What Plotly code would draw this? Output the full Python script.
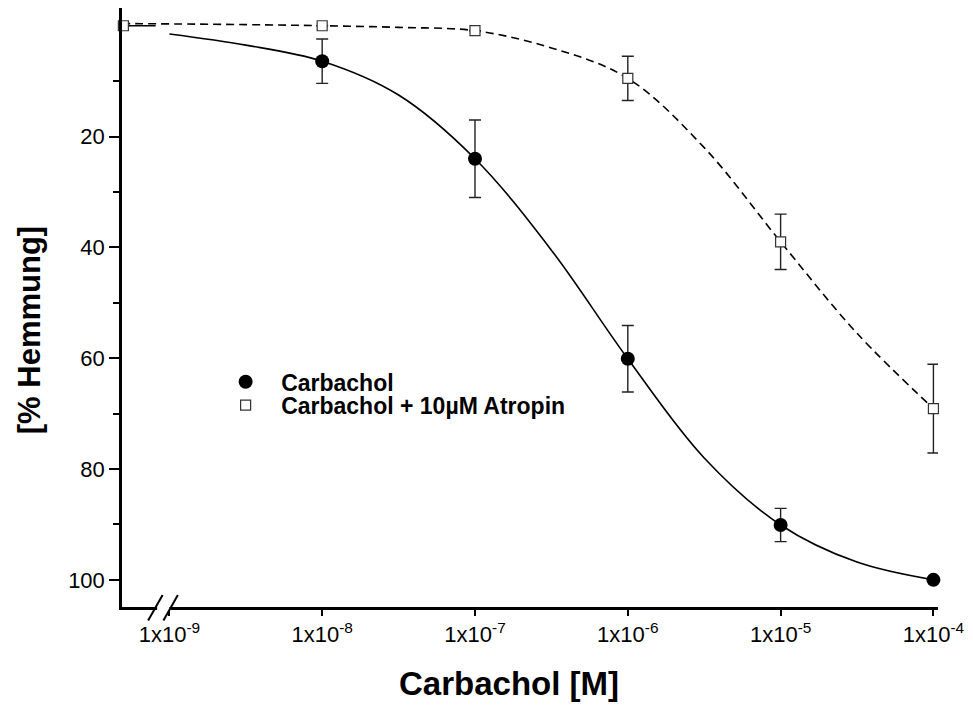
import plotly.graph_objects as go

# ---------------- data ----------------
conc = [1e-8, 1e-7, 1e-6, 1e-5, 1e-4]
carb_mean = [6.4, 24.0, 60.1, 90.1, 100.0]
carb_err = [4.0, 7.0, 6.0, 3.0, 0.0]

atro_conc = [5e-10, 1e-8, 1e-7, 1e-6, 1e-5, 1e-4]   # first = control (drawn at axis start)
atro_mean = [0.0, 0.0, 0.9, 9.5, 39.0, 69.1]
atro_err = [0.0, 0.0, 0.0, 4.0, 5.0, 8.0]

# fitted curves (log10 concentration, % inhibition)
carb_fit_logx = [-9.0, -8.5, -8.0, -7.5, -7.0, -6.5, -6.0, -5.5, -5.0, -4.5, -4.0]
carb_fit_y = [1.5, 3.5, 6.4, 12.5, 24.0, 40.5, 60.1, 78.0, 90.1, 96.8, 100.0]
carb_ctrl_logx = [-9.31, -9.09]
carb_ctrl_y = [0.0, 0.0]

atro_fit_logx = [-9.31, -8.5, -8.0, -7.5, -7.0, -6.5, -6.0, -5.5, -5.0, -4.5, -4.0]
atro_fit_y = [-0.4, -0.2, 0.0, 0.3, 0.9, 4.0, 9.5, 22.0, 39.0, 55.5, 69.1]

x_tickvals = [1e-9, 1e-8, 1e-7, 1e-6, 1e-5, 1e-4]
x_ticktext = ["1x10<sup>-9</sup>", "1x10<sup>-8</sup>", "1x10<sup>-7</sup>",
              "1x10<sup>-6</sup>", "1x10<sup>-5</sup>", "1x10<sup>-4</sup>"]
y_tickvals = [20, 40, 60, 80, 100]
y_minor = [10, 30, 50, 70, 90]

# ---------------- layout constants ----------------
FONT = "Liberation Sans, Arial, sans-serif"
W, H = 973, 713
ML, MR, MT, MB = 122, 33, 8, 106
PW, PH = W - ML - MR, H - MT - MB
XR = [-9.31, -3.97]
YR = [104.9, -3.2]
BREAK_X = [-9.09, -8.99]


def xfrac(lv):
    return (lv - XR[0]) / (XR[1] - XR[0])


fig = go.Figure()

fig.add_trace(go.Scatter(
    x=[10 ** v for v in carb_ctrl_logx], y=carb_ctrl_y, mode="lines",
    line=dict(color="black", width=1.6), showlegend=False, hoverinfo="skip"))
fig.add_trace(go.Scatter(
    x=[10 ** v for v in carb_fit_logx], y=carb_fit_y, mode="lines",
    line=dict(color="black", width=1.6, shape="spline", smoothing=1.0),
    showlegend=False, hoverinfo="skip"))
fig.add_trace(go.Scatter(
    x=[10 ** v for v in atro_fit_logx], y=atro_fit_y, mode="lines",
    line=dict(color="black", width=1.6, dash="8px,5px", shape="spline", smoothing=1.0),
    showlegend=False, hoverinfo="skip"))

fig.add_trace(go.Scatter(
    x=atro_conc, y=atro_mean, mode="markers", name="Carbachol + 10µM Atropin",
    legend="legend2",
    marker=dict(symbol="square", size=10, color="white",
                line=dict(color="#333333", width=1.2)),
    error_y=dict(type="data", array=atro_err, visible=True, color="#222222",
                 thickness=1.4, width=6),
    cliponaxis=False))
fig.add_trace(go.Scatter(
    x=conc, y=carb_mean, mode="markers", name="Carbachol",
    legend="legend",
    marker=dict(symbol="circle", size=14, color="black"),
    error_y=dict(type="data", array=carb_err, visible=True, color="#222222",
                 thickness=1.4, width=6),
    cliponaxis=False))

# axis break marks (paper coordinates)
shapes = [dict(type="rect", xref="paper", yref="paper", layer="above",
               x0=xfrac(BREAK_X[0]) + 1.5 / PW, x1=xfrac(BREAK_X[1]) - 1.5 / PW,
               y0=-4 / PH, y1=3 / PH, fillcolor="white", line=dict(width=0))]
for bx in BREAK_X:
    shapes.append(dict(type="line", xref="paper", yref="paper", layer="above",
                       x0=xfrac(bx) - 7.5 / PW, x1=xfrac(bx) + 7 / PW,
                       y0=-13.5 / PH, y1=12 / PH,
                       line=dict(color="black", width=2)))

legend_common = dict(xanchor="left", yanchor="middle", bgcolor="rgba(0,0,0,0)",
                     itemwidth=61,
                     font=dict(family=FONT, size=23, weight="bold"))

fig.update_layout(
    width=W, height=H,
    margin=dict(l=ML, r=MR, t=MT, b=MB),
    paper_bgcolor="white", plot_bgcolor="white",
    font=dict(family=FONT, color="black", size=22),
    shapes=shapes,
    legend=dict(x=0.108, y=0.376, **legend_common),
    legend2=dict(x=0.108, y=0.337, **legend_common),
    annotations=[
        dict(text="<b>[% Hemmung]</b>", xref="paper", yref="paper",
             x=(29 - ML) / PW, y=(MT + PH - 330) / PH, textangle=-90,
             showarrow=False, xanchor="center", yanchor="middle",
             font=dict(family=FONT, size=31, color="black")),
        dict(text="<b>Carbachol [M]</b>", xref="paper", yref="paper",
             x=(510 - ML) / PW, y=(MT + PH - 683) / PH,
             showarrow=False, xanchor="center", yanchor="middle",
             font=dict(family=FONT, size=33, color="black")),
    ],
    xaxis=dict(type="log", range=XR,
               tickmode="array", tickvals=x_tickvals, ticktext=x_ticktext,
               ticks="outside", ticklen=6, tickwidth=2, tickcolor="black",
               showline=True, linewidth=2.5, linecolor="black",
               showgrid=False, zeroline=False,
               tickfont=dict(size=22)),
    yaxis=dict(range=YR,
               tickmode="array", tickvals=y_tickvals,
               ticks="outside", ticklen=10, tickwidth=2, tickcolor="black",
               minor=dict(tickmode="array", tickvals=y_minor, ticks="outside",
                          ticklen=6, tickwidth=2, tickcolor="black"),
               showline=True, linewidth=2.5, linecolor="black",
               showgrid=False, zeroline=False,
               tickfont=dict(size=22)),
)

fig.write_html("out.html")
